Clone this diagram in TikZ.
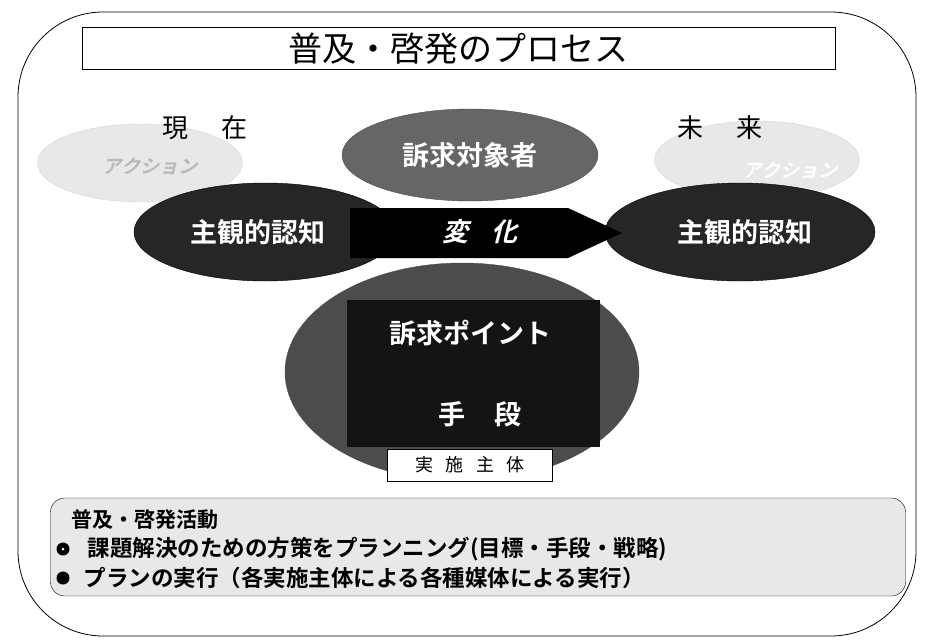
\documentclass[tikz,border=0pt]{standalone}
\usepackage{fontspec}
\newfontfamily\jp{Noto Sans CJK JP}
\newfontfamily\jpb{Noto Sans CJK JP Bold}
\usetikzlibrary{shapes.geometric}
\begin{document}
\begin{tikzpicture}[x=1pt,y=-1pt,
  faint/.style={ellipse,draw=gray!70,densely dotted,fill=gray!18,inner sep=0pt},
  darkell/.style={ellipse,fill=black!85,draw=black,inner sep=0pt},
  midell/.style={ellipse,fill=black!60,draw=black!70,inner sep=0pt},
  wtxt/.style={text=white,font=\jpb\fontsize{27}{30}\selectfont},
  ktxt/.style={text=black,font=\jp\fontsize{26}{28}\selectfont},
  btxt/.style={text=black,font=\jpb\fontsize{22.5}{25}\selectfont,anchor=west}]
\useasboundingbox (0,0) rectangle (926,642);
\draw[line width=0.8pt,rounded corners=85] (18,12) rectangle (916,636);
% title
\node[draw,line width=1pt,minimum width=753,minimum height=42,inner sep=0pt,font=\jp\fontsize{34}{36}\selectfont] (title) at (458.5,49) {普及・啓発のプロセス};
% faint ellipses
\node[faint,minimum width=205,minimum height=78] (fl) at (140,163) {};
\node[faint,minimum width=205,minimum height=78] (fr) at (757,160) {};
\node[text=gray!55,font=\jpb\fontsize{19}{22}\selectfont] (flt) at (150,166) {\addfontfeature{FakeSlant=0.25}アクション};
\node[text=white,font=\jpb\fontsize{19}{22}\selectfont] (frt) at (790,170) {\addfontfeature{FakeSlant=0.25}アクション};
\node[ktxt] (now) at (205,128) {現\hspace{1.3em}在};
\node[ktxt] (fut) at (720,128) {未\hspace{1.3em}来};
% target
\node[midell,minimum width=256,minimum height=92] (target) at (470,155) {};
\node[wtxt] at (target) {訴求対象者};
% left / right cognition
\node[darkell,minimum width=262,minimum height=98] (lc) at (265,232) {};
\node[darkell,minimum width=270,minimum height=98] (rc) at (740,232) {};
% change arrow
\fill[black] (350,208) -- (568,208) -- (622,233) -- (568,258) -- (350,258) -- cycle;
\node[wtxt] at (258,232) {主観的認知};
\node[wtxt] at (745,232) {主観的認知};
\node[text=white,font=\jpb\fontsize{26}{28}\selectfont] (chg) at (480,232) {\addfontfeature{FakeSlant=0.25}変\hspace{0.9em}化};
% big ellipse
\node[midell,fill=black!70,minimum width=354,minimum height=218] (big) at (462,372) {};
\fill[black!92] (347,300) rectangle (600,447);
\node[wtxt] (pt) at (470,333) {訴求ポイント};
\node[wtxt] (mt) at (480,414) {手\hspace{1.1em}段};
\node[draw,fill=white,line width=0.8pt,minimum width=165,minimum height=32,inner sep=0pt,font=\jp\fontsize{18}{20}\selectfont] (ent) at (470,465) {実\hspace{0.7em}施\hspace{0.7em}主\hspace{0.7em}体};
% bottom box
\node[draw,fill=gray!18,rounded corners=14,minimum width=855,minimum height=98,inner sep=0pt] (act) at (478,547) {};
\node[btxt,font=\jpb\fontsize{21}{24}\selectfont] (h) at (68,520) {普及・啓発活動};
\node[circle,fill=black,inner sep=0pt,minimum size=13] (b1) at (63,549) {};
\node[circle,fill=white,inner sep=0pt,minimum size=3] at (b1) {};
\node[circle,fill=black,inner sep=0pt,minimum size=13] (b2) at (63,578) {};
\node[btxt] (l1) at (84,549) {課題解決のための方策をプランニング(目標・手段・戦略)};
\node[btxt] (l2) at (80,578) {プランの実行（各実施主体による各種媒体による実行）};
\end{tikzpicture}
\end{document}
